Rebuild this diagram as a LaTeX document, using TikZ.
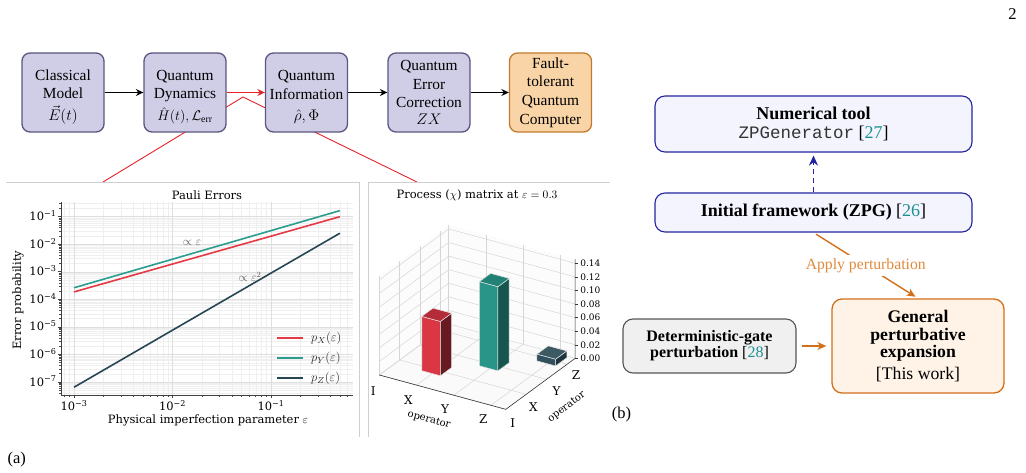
\RequirePackage{fix-cm}
\documentclass[tikz,border=0pt]{standalone}
\usepackage{fontspec}
\setmainfont{Liberation Serif}
\setmonofont{Liberation Mono}
\newfontfamily\mplfont{DejaVu Serif}
\usetikzlibrary{arrows.meta,calc}

\definecolor{boxfill}{HTML}{D0CEE6}
\definecolor{boxdraw}{HTML}{5B5680}
\definecolor{ftfill}{HTML}{F9D4A6}
\definecolor{ftdraw}{HTML}{C27A2C}
\definecolor{topred}{HTML}{E6222A}
\definecolor{pred}{HTML}{E63946}
\definecolor{pteal}{HTML}{2A9D8F}
\definecolor{pdark}{HTML}{264653}
\definecolor{navy}{HTML}{2424A0}
\definecolor{toolfill}{HTML}{F4F4FE}
\definecolor{orangeline}{HTML}{D2701A}
\definecolor{orangetext}{HTML}{E08A3C}
\definecolor{genfill}{HTML}{FFF3E8}
\definecolor{detfill}{HTML}{F0F0F0}
\definecolor{detdraw}{HTML}{555555}
\definecolor{citec}{HTML}{1E9090}
\definecolor{gridmaj}{HTML}{DEDEDE}
\definecolor{gridmin}{HTML}{EFEFEF}
\definecolor{panelc}{HTML}{CFCFCF}
\definecolor{gridthree}{HTML}{D6D6D6}

\newcommand\mplf{\mplfont\fontsize{11.5}{12}\selectfont}
\newcommand\drawbar[8]{%
  \filldraw[fill=#6, draw=white!80!gray, line width=0.5pt] (#1,#3,0) -- (#2,#3,0) -- (#2,#3,#5) -- (#1,#3,#5) -- cycle;
  \filldraw[fill=#7, draw=white!80!gray, line width=0.5pt] (#2,#3,0) -- (#2,#4,0) -- (#2,#4,#5) -- (#2,#3,#5) -- cycle;
  \filldraw[fill=#8, draw=white!80!gray, line width=0.5pt] (#1,#3,#5) -- (#2,#3,#5) -- (#2,#4,#5) -- (#1,#4,#5) -- cycle;
}

\tikzset{
  flowbox/.style={draw=boxdraw, fill=boxfill, line width=1.3pt, rounded corners=8pt,
    minimum width=82pt, minimum height=79pt, inner sep=0pt, align=center,
    font=\fontsize{15.4}{18.7}\selectfont},
  flowarrow/.style={-{Stealth[length=7.5pt,width=7pt]}, line width=1.3pt},
  toolbox/.style={draw=navy, fill=toolfill, line width=1.1pt, rounded corners=10pt,
    minimum width=317pt, minimum height=56pt, inner sep=0pt, align=center,
    font=\fontsize{18}{19}\selectfont},
  mpl/.style={font=\mplf, inner sep=0pt},
  grid3d/.style={draw=gridthree, line width=0.5pt},
  oarrow/.style={draw=orangeline, line width=1.4pt, -{Stealth[length=9pt,width=8pt]}},
}

\begin{document}
\begin{tikzpicture}[x=1pt,y=-1pt]
\useasboundingbox (0,0) rectangle (1026,473);

% ---------- top flow ----------
\coordinate (conv) at (243,97);
\coordinate (pl) at (103,182);
\coordinate (pr) at (417,182);
\draw[topred, line width=0.9pt] (pl) -- (conv) -- (pr);

\node[flowbox] (b1) at (63,92.5) {\rule{0pt}{19.5pt}Classical\\Model\\[3pt]$\vec{E}(t)$};
\node[flowbox] (b2) at (185,92.5) {\rule{0pt}{19.5pt}Quantum\\Dynamics\\[3pt]{\fontsize{14}{16}\selectfont$\hat{H}(t),\mathcal{L}_{\mathrm{err}}$}};
\node[flowbox] (b3) at (306.5,92.5) {\rule{0pt}{19.5pt}Quantum\\Information\\[3pt]$\hat{\rho},\Phi$};
\node[flowbox] (b4) at (429,92.5) {Quantum\\Error\\Correction\\[-2pt]$ZX$};
\node[flowbox, fill=ftfill, draw=ftdraw] (b5) at (550.5,92.5) {Fault-\\tolerant\\Quantum\\Computer};

\draw[flowarrow] (b1) -- (b2);
\draw[flowarrow, topred, line width=1.7pt] (b2) -- (b3);
\draw[flowarrow] (b3) -- (b4);
\draw[flowarrow] (b4) -- (b5);

% panel frames
\draw[panelc, line width=0.7pt] (6,182) -- (359,182) -- (359,437);
\draw[panelc, line width=0.7pt] (368,437) -- (368,182) -- (610,182);

% ---------- Pauli errors plot ----------
\begin{scope}[shift={(369.5,189.15)}, x=98.5pt, y=27.55pt]
  \begin{scope}
    \clip (-3.13,-7.47) rectangle (-0.17,-0.48);
    \foreach \d in {-4,...,-1}{\foreach \m in {2,...,9}{
      \draw[gridmin, line width=0.4pt] ({\d+log10(\m)},-8) -- ({\d+log10(\m)},0);}}
    \foreach \d in {-8,...,-1}{\foreach \m in {2,...,9}{
      \draw[gridmin, line width=0.4pt] (-4,{\d+log10(\m)}) -- (0,{\d+log10(\m)});}}
    \foreach \d in {-3,-2,-1} \draw[gridmaj, line width=0.5pt] (\d,-8) -- (\d,0);
    \foreach \d in {-7,...,-1} \draw[gridmaj, line width=0.5pt] (-4,\d) -- (0,\d);
  \end{scope}
  % minor ticks
  \begin{scope}
    \clip (-3.13,-8) rectangle (-0.17,-7.47);
    \foreach \d in {-4,...,-1}{\foreach \m in {2,...,9}{
      \draw[black!70, line width=0.5pt] ({\d+log10(\m)},-7.47) -- ++(0pt,-2pt);}}
  \end{scope}
  \begin{scope}
    \clip (-3.4,-7.47) rectangle (-3.13,-0.48);
    \foreach \d in {-8,...,-1}{\foreach \m in {2,...,9}{
      \draw[black!70, line width=0.5pt] (-3.13,{\d+log10(\m)}) -- ++(-2pt,0pt);}}
  \end{scope}
  % spines and major ticks
  \draw[black!75, line width=0.7pt] (-3.13,-0.48) -- (-3.13,-7.47) -- (-0.17,-7.47);
  \foreach \e in {3,2,1}{
    \draw[black!75, line width=0.7pt] (-\e,-7.47) -- ++(0pt,-3.5pt);
    \node[mpl, anchor=base, yshift=-15.7pt] (xtick\e) at (-\e,-7.47) {10\textsuperscript{−\e}};}
  \foreach \e in {1,...,7}{
    \draw[black!75, line width=0.7pt] (-3.13,-\e) -- ++(-3.5pt,0pt);
    \node[mpl, anchor=base east, xshift=-4.5pt, yshift=-4pt] (ytick\e) at (-3.13,-\e) {10\textsuperscript{−\e}};}
  % data
  \draw[pred, line width=1.6pt] (-3,-3.73) -- (-0.301,-1.0);
  \draw[pteal, line width=1.6pt] (-3,-3.58) -- (-0.301,-0.78);
  \draw[pdark, line width=1.6pt] (-3,-7.19) -- (-0.301,-1.60);
\end{scope}

\node[mpl] (ptitle) at (207,195) {Pauli Errors};
\node[mpl, rotate=90] (pylab) at (18,300) {Error probability};
\node[mpl] (pxlab) at (208,420) {Physical imperfection parameter $\varepsilon$};
\node[text=black!65, font=\fontsize{12}{12}\selectfont] (ann1) at (192,243) {$\propto\varepsilon$};
\node[text=black!65, font=\fontsize{12}{12}\selectfont] (ann2) at (250,277) {$\propto\varepsilon^2$};

% legend
\coordinate (lgx0) at (277,338); \coordinate (lgx1) at (303,338);
\coordinate (lgy0) at (277,358); \coordinate (lgy1) at (303,358);
\coordinate (lgz0) at (277,378); \coordinate (lgz1) at (303,378);
\draw[pred, line width=1.6pt] (lgx0) -- (lgx1);
\draw[pteal, line width=1.6pt] (lgy0) -- (lgy1);
\draw[pdark, line width=1.6pt] (lgz0) -- (lgz1);
\node[anchor=west, text=black!85, font=\fontsize{12.5}{13}\selectfont, inner sep=0pt] (lgxl) at (311,338) {$p_X(\varepsilon)$};
\node[anchor=west, text=black!85, font=\fontsize{12.5}{13}\selectfont, inner sep=0pt] (lgyl) at (311,358) {$p_Y(\varepsilon)$};
\node[anchor=west, text=black!85, font=\fontsize{12.5}{13}\selectfont, inner sep=0pt] (lgzl) at (311,378) {$p_Z(\varepsilon)$};

% ---------- 3D process matrix ----------
\begin{scope}[shift={(379.3,375)}, x={(37.2pt,-10.1pt)}, y={(20.4pt,15pt)}, z={(0pt,6.79pt)}]
  \fill[black!1] (0,0,0) -- (0,3.4,0) -- (0,3.4,14.6) -- (0,0,14.6) -- cycle;
  \fill[black!1] (0,3.4,0) -- (3.4,3.4,0) -- (3.4,3.4,14.6) -- (0,3.4,14.6) -- cycle;
  \fill[black!2] (0,0,0) -- (3.4,0,0) -- (3.4,3.4,0) -- (0,3.4,0) -- cycle;
  \foreach \k in {0,...,3}{
    \draw[grid3d] (0,\k,0) -- (0,\k,14.6);
    \draw[grid3d] (\k,3.4,0) -- (\k,3.4,14.6);
    \draw[grid3d] (\k,0,0) -- (\k,3.4,0);
    \draw[grid3d] (0,\k,0) -- (3.4,\k,0);}
  \foreach \w in {0,2,...,14}{
    \draw[grid3d] (0,0,\w) -- (0,3.4,\w) -- (3.4,3.4,\w);}
  \draw[black!80, line width=0.6pt] (0,0,0) -- (3.4,0,0) -- (3.4,3.4,0) -- (3.4,3.4,14.6);
  \foreach \w/\lab in {0/0.00,2/0.02,4/0.04,6/0.06,8/0.08,10/0.10,12/0.12,14/0.14}{
    \draw[black!80, line width=0.5pt] (3.4,3.4,\w) -- ++(3pt,0pt);
    \node[anchor=west, xshift=5pt, inner sep=0pt, font=\mplfont\fontsize{9}{9}\selectfont] (zt\w) at (3.4,3.4,\w) {\lab};}
  \drawbar{2.72}{3.22}{2.77}{3.32}{1.0}{pdark!95!white}{pdark!75!black}{pdark!90!white}
  \drawbar{1.72}{2.22}{1.77}{2.32}{12.4}{pteal!95!black}{pteal!55!black}{pteal!82!black}
  \drawbar{0.72}{1.22}{0.77}{1.32}{8.0}{pred!95!black}{pred!45!black}{pred!78!black}
\end{scope}

\node[mpl] (t3d) at (477,195) {Process ($\chi$) matrix at $\varepsilon=0.3$};
\node[font=\mplfont\fontsize{12}{12}\selectfont] (xI) at (373.3,390.7) {I};
\node[font=\mplfont\fontsize{12}{12}\selectfont] (xX) at (408.3,400) {X};
\node[font=\mplfont\fontsize{12}{12}\selectfont] (xY) at (445,409.3) {Y};
\node[font=\mplfont\fontsize{12}{12}\selectfont] (xZ) at (483.3,419.3) {Z};
\node[font=\mplfont\fontsize{12}{12}\selectfont] (yI) at (512.7,422.7) {I};
\node[font=\mplfont\fontsize{12}{12}\selectfont] (yX) at (533.3,406.7) {X};
\node[font=\mplfont\fontsize{12}{12}\selectfont] (yY) at (556.7,390.7) {Y};
\node[font=\mplfont\fontsize{12}{12}\selectfont] (yZ) at (576,375) {Z};
\node[font=\mplfont\fontsize{10}{10}\selectfont, rotate=-15] (xop) at (429,420) {operator};
\node[font=\mplfont\fontsize{10}{10}\selectfont, rotate=37] (yop) at (566.7,407) {operator};

% ---------- panel (b) ----------
\node[toolbox] (num) at (813.5,124) {\textbf{Numerical tool}\\{\fontsize{17.5}{19}\selectfont\color{black!80}\texttt{ZPGenerator}} [\textcolor{citec}{27}]};
\node[toolbox, minimum height=39pt] (init) at (813.5,212.5) {\textbf{Initial framework (ZPG)} [\textcolor{citec}{26}]};
\draw[navy, line width=1.8pt, dash pattern=on 5pt off 4pt, -{Stealth[length=10pt,width=9pt]}, shorten >=3pt] (init.north) -- (num.south);

\node[draw=orangeline, fill=genfill, line width=1.3pt, rounded corners=10pt, minimum width=172pt, minimum height=94pt, inner sep=0pt, align=center, font=\fontsize{17.7}{17.5}\selectfont] (gen) at (918,346)
  {\textbf{General}\\\textbf{perturbative}\\\textbf{expansion}\\[4pt][This work]};
\node[draw=detdraw, fill=detfill, line width=1.1pt, rounded corners=10pt, minimum width=173pt, minimum height=54pt, inner sep=0pt, align=center, font=\fontsize{16}{15.7}\selectfont] (det) at (709.5,346)
  {\textbf{Deterministic-gate}\\\textbf{perturbation} [\textcolor{citec}{28}]};

\draw[oarrow, shorten <=3pt, shorten >=3pt] (init.south) -- node[fill=white, text=orangetext, inner sep=3pt, font=\fontsize{15.7}{16}\selectfont] (apl) {Apply perturbation} (gen.north);
\draw[oarrow, shorten <=5pt, shorten >=5pt] (det) -- (gen);

% labels
\node[font=\fontsize{16.5}{17}\selectfont] (la) at (16.7,459.3) {(a)};
\node[font=\fontsize{16.5}{17}\selectfont] (lb) at (621.5,414.8) {(b)};
\node[font=\fontsize{16.5}{17}\selectfont] (pg) at (1012.5,13.7) {2};
\end{tikzpicture}
\end{document}
